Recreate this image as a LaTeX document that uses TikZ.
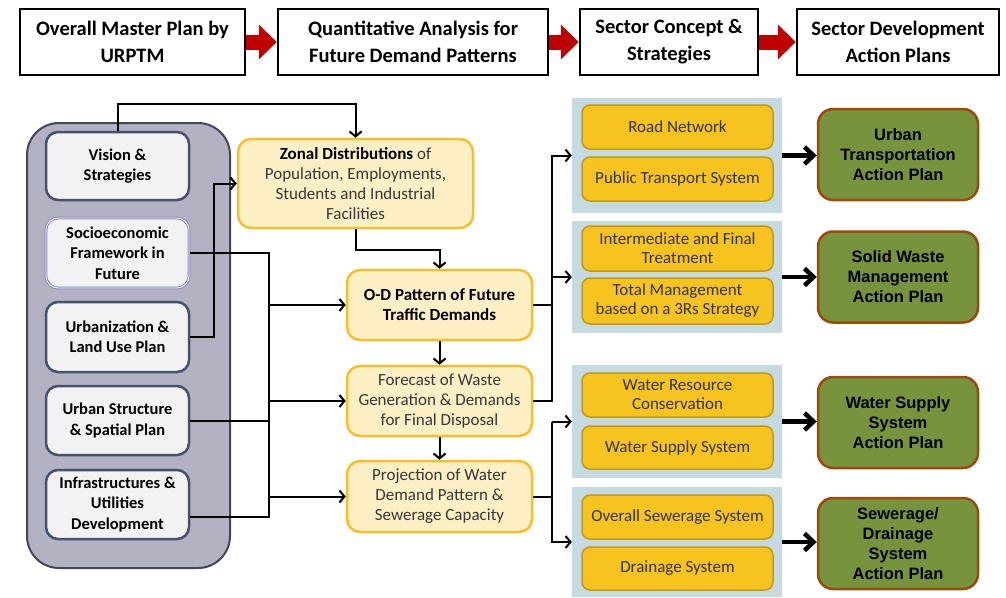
\documentclass[tikz,border=0pt]{standalone}
\usepackage{fontspec}
\setmainfont{Carlito}
\newfontfamily\arialfont{Liberation Sans}
\usetikzlibrary{arrows.meta}

\definecolor{grpfill}{HTML}{B2B2C2}
\definecolor{grpline}{HTML}{45455A}
\definecolor{inline}{HTML}{46516E}
\definecolor{midfill}{HTML}{FEF0C4}
\definecolor{midline}{HTML}{F4BE2C}
\definecolor{panelfill}{HTML}{C6DAE2}
\definecolor{subfill}{HTML}{F7C31F}
\definecolor{subline}{HTML}{C39A12}
\definecolor{actfill}{HTML}{77933C}
\definecolor{actline}{HTML}{9A4A0A}
\definecolor{arrred}{HTML}{C00000}

\begin{document}
\begin{tikzpicture}[x=1pt, y=-1pt,
    topbox/.style={draw, line width=2.5pt, fill=white, align=center, inner sep=0pt,
        font=\fontsize{20.5}{27}\selectfont\bfseries},
    redarr/.style={arrred, line width=15pt, -{Triangle[length=18pt,width=34pt]}},
    grp/.style={draw=grpline, line width=2pt, fill=grpfill, rounded corners=32pt},
    inbox/.style={draw=inline, line width=2.5pt, fill=black!5, rounded corners=12pt,
        align=center, inner sep=0pt, minimum width=143pt,
        font=\fontsize{16.5}{20.5}\selectfont\bfseries},
    inboxlt/.style={inbox, draw=blue!30!gray!70, double=white, double distance=0.8pt, line width=1pt},
    midbox/.style={draw=midline, line width=2.5pt, fill=midfill, rounded corners=13pt,
        align=center, inner sep=0pt, minimum width=185pt, text=black!78,
        font=\fontsize{17}{20}\selectfont},
    panel/.style={fill=panelfill, inner sep=0pt, minimum width=210pt},
    subbox/.style={draw=subline, line width=1.5pt, fill=subfill, rounded corners=8pt,
        align=center, inner sep=0pt, minimum width=191pt, text=black!80,
        font=\fontsize{17}{19}\selectfont},
    actbox/.style={draw=actline, line width=2.5pt, fill=actfill, rounded corners=15pt,
        align=center, inner sep=0pt, minimum width=160pt, minimum height=91pt,
        font=\arialfont\bfseries\fontsize{16.5}{20}\selectfont},
    wire/.style={line width=2pt},
    conn/.style={wire, -{Straight Barb[length=5pt,width=12pt]}},
    bigarr/.style={line width=4.5pt, -{Straight Barb[length=9pt,width=17pt]}}]

    \useasboundingbox (0,0) rectangle (1006,597);

    % Top row
    \foreach \n/\x/\w/\txt in {t1/132.5/225/{Overall Master Plan by\\URPTM},
            t2/413/270/{Quantitative Analysis for\\Future Demand Patterns},
            t3/669/178/{Sector Concept \&\\Strategies},
            t4/898/202/{Sector Development\\Action Plans}} {
            \node[topbox, minimum width=\w pt, minimum height=66pt] (\n) at (\x,42) {\txt};
        }
    \foreach \a/\b in {t1/t2, t2/t3, t3/t4} {
            \draw[redarr] (\a) -- (\b);
        }

    % Left group
    \node[grp, minimum width=203pt, minimum height=445pt] (grp) at (128.5,345.5) {};
    \foreach \n/\y/\h/\st/\txt in {vis/166/68/inbox/{Vision \&\\Strategies},
            soc/253/70/inboxlt/{Socioeconomic\\Framework in\\Future},
            urb/337/70/inbox/{Urbanization \&\\Land Use Plan},
            ust/420.5/69/inbox/{Urban Structure\\\& Spatial Plan},
            inf/504.5/69/inbox/{Infrastructures \&\\Utilities\\Development}} {
            \node[\st, minimum height=\h pt] (\n) at (117.5,\y) {\txt};
        }

    % Analysis column
    \node[midbox, minimum width=235pt, minimum height=89pt] (zon) at (355.5,183.5)
        {{\bfseries\color{black} Zonal Distributions} of\\Population, Employments,\\Students and Industrial\\Facilities};
    \node[midbox, minimum height=70pt, text=black, font=\fontsize{17}{20}\selectfont\bfseries] (od) at (439.5,305)
        {O-D Pattern of Future\\Traffic Demands};
    \node[midbox, minimum height=70pt] (fc) at (439.5,401)
        {Forecast of Waste\\Generation \& Demands\\for Final Disposal};
    \node[midbox, minimum height=71pt] (pj) at (439.5,496.5)
        {Projection of Water\\Demand Pattern \&\\Sewerage Capacity};

    % Sector panels
    \foreach \n/\y/\h in {p1/155.5/115, p2/277/112, p3/421.5/113, p4/542/110} {
            \node[panel, minimum height=\h pt] (\n) at (677,\y) {};
        }
    \foreach \n/\y/\h/\txt in {road/127/44/{Road Network},
            pub/179/44/{Public Transport System},
            imt/248.5/45/{Intermediate and Final\\Treatment},
            tot/301/46/{Total Management\\based on a 3Rs Strategy},
            wrc/395/44/{Water Resource\\Conservation},
            wss/447.5/43/{Water Supply System},
            ovs/517/44/{Overall Sewerage System},
            drn/568.5/43/{Drainage System}} {
            \node[subbox, minimum height=\h pt] (\n) at (677.5,\y) {\txt};
        }

    % Action plans
    \foreach \n/\y/\txt in {ut/154.5/{Urban\\Transportation\\Action Plan},
            sw/277/{Solid Waste\\Management\\Action Plan},
            ws/422.5/{Water Supply\\System\\Action Plan},
            sd/543.5/{Sewerage/\\Drainage\\System\\Action Plan}} {
            \node[actbox] (\n) at (898,\y) {\txt};
        }

    % Connectors, left side
    \coordinate (lbus) at (269,0);
    \coordinate (rbus) at (552,0);
    \draw[conn] (vis.north) -- ++(0,-27) -| (zon.north);
    \draw[conn] (urb.east) -- ++(24,0) |- (zon.west);
    \draw[wire] (soc.east) -| (lbus |- ust.east) -- (ust.east);
    \draw[wire] (lbus |- ust.east) |- ([yshift=-12pt]inf.east);
    \foreach \m in {od, fc, pj} {
            \draw[conn] (lbus |- \m.west) -- (\m.west);
        }
    \draw[conn] (zon.south) -- ++(0,21) -| (od.north);
    \draw[conn] (od) -- (fc);
    \draw[conn] (fc) -- (pj);

    % Connectors, right side
    \draw[wire] (od.east) -- (rbus |- od.east);
    \draw[conn] (fc.east) -| (rbus |- p1.west) -- (p1.west);
    \draw[conn] (rbus |- p2.west) -- (p2.west);
    \draw[wire] (pj.east) -- (rbus |- pj.east);
    \draw[conn] (rbus |- p3.west) -- (p3.west);
    \draw[conn] (rbus |- p3.west) |- (p4.west);
    \foreach \p/\g in {p1/ut, p2/sw, p3/ws, p4/sd} {
            \draw[bigarr] (\p.east) -- (\p.east -| \g.west);
        }
\end{tikzpicture}
\end{document}
